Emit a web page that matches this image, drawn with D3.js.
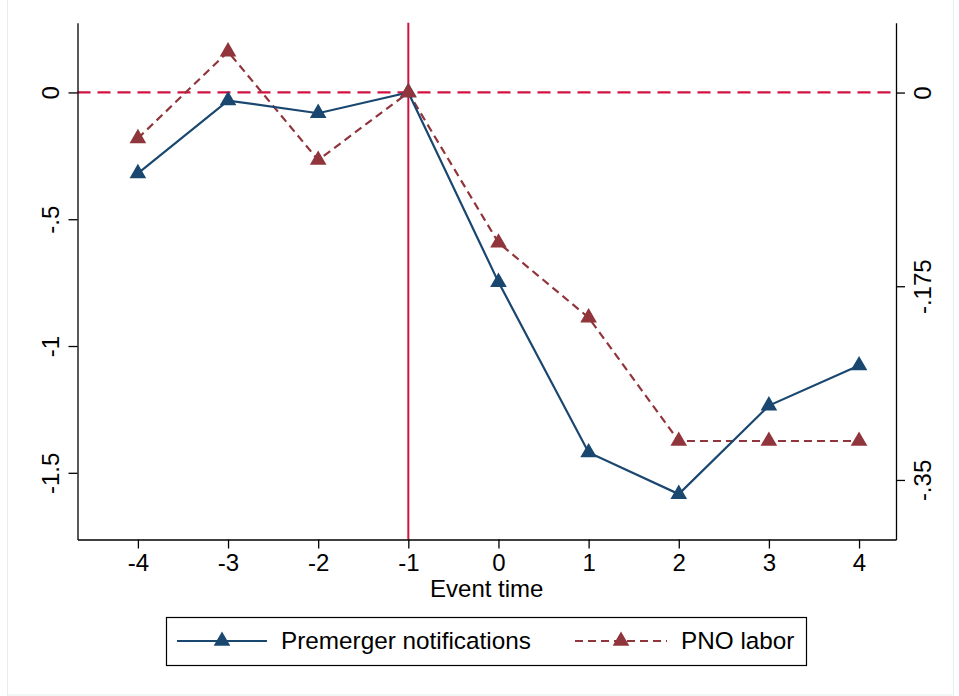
<!DOCTYPE html>
<html>
<head>
<meta charset="utf-8">
<title>Event study</title>
<script src="https://cdn.jsdelivr.net/npm/d3@7/dist/d3.min.js"></script>
<style>
  body { margin: 0; background: #fff; }
  text { font-family: "Liberation Sans", Arial, sans-serif; fill: #000; }
</style>
</head>
<body>
<div id="chart"></div>
<script>
// data
var eventTime = [-4, -3, -2, -1, 0, 1, 2, 3, 4];
var premerger = [-0.319, -0.032, -0.082, 0, -0.748, -1.420, -1.584, -1.235, -1.077];
var pnoLabor  = [-0.0414, 0.0369, -0.061, 0, -0.1357, -0.2033, -0.3148, -0.3148, -0.3148];
var leftTicks  = [0, -0.5, -1, -1.5];
var rightTicks = [0, -0.175, -0.35];
var seriesNames = ["Premerger notifications", "PNO labor"];

var width = 959, height = 696;
var plotLeft = 77.5, plotRight = 896, plotTop = 22.7, plotBottom = 539.5;
var blue = "#1a476f", maroon = "#90353b", refRed = "#d21141";

var svg = d3.select("#chart").append("svg")
    .attr("width", width)
    .attr("height", height);

// faint outer frame of the graph region
svg.append("rect")
    .attr("x", 7.5).attr("y", -5)
    .attr("width", 946).attr("height", 700)
    .attr("fill", "none")
    .attr("stroke", "#e4eef0");

var x = d3.scaleLinear().domain([-4.67, 4.41]).range([plotLeft, plotRight]);
var yL = d3.scaleLinear().domain([-1.763, 0.275]).range([plotBottom, plotTop]);
var yR = d3.scaleLinear().domain([-0.4038, 0.0631]).range([plotBottom, plotTop]);

// Stata style numbers: plain hyphen, no leading zero
function stataFmt(d) { return d === 0 ? "0" : String(d).replace("0.", "."); }

// reference lines
svg.append("line")
    .attr("x1", plotLeft).attr("x2", plotRight)
    .attr("y1", yL(0)).attr("y2", yL(0))
    .attr("stroke", refRed).attr("stroke-width", 2.2)
    .attr("stroke-dasharray", "13,7");
svg.append("line")
    .attr("x1", x(-1)).attr("x2", x(-1))
    .attr("y1", plotTop).attr("y2", plotBottom)
    .attr("stroke", refRed).attr("stroke-width", 2);

// axes
var axisFont = "24px";
var gx = svg.append("g").attr("transform", "translate(0," + plotBottom + ")")
    .call(d3.axisBottom(x).tickValues(eventTime).tickFormat(stataFmt).tickSize(9).tickPadding(5).tickSizeOuter(0));
var gl = svg.append("g").attr("transform", "translate(" + plotLeft + ",0)")
    .call(d3.axisLeft(yL).tickValues(leftTicks).tickFormat(stataFmt).tickSize(9).tickSizeOuter(0));
var gr = svg.append("g").attr("transform", "translate(" + plotRight + ",0)")
    .call(d3.axisRight(yR).tickValues(rightTicks).tickFormat(stataFmt).tickSize(9).tickSizeOuter(0));

[gx, gl, gr].forEach(function(g) {
  g.select(".domain").attr("stroke", "#000").attr("stroke-width", 1.3);
  g.selectAll(".tick line").attr("stroke", "#000").attr("stroke-width", 1.3);
  g.selectAll(".tick text").style("font-size", axisFont).attr("fill", "#000")
    .style("font-family", "Liberation Sans, Arial, sans-serif");
});
// rotated y labels like Stata
gl.selectAll(".tick text")
    .attr("x", null).attr("dy", null)
    .attr("text-anchor", "middle")
    .attr("transform", "translate(-19,0) rotate(-90)");
gr.selectAll(".tick text")
    .attr("x", null).attr("dy", null)
    .attr("text-anchor", "middle")
    .attr("transform", "translate(35,0) rotate(-90)");

svg.append("text")
    .attr("x", (plotLeft + plotRight) / 2).attr("y", 597)
    .attr("text-anchor", "middle")
    .style("font-size", "24px")
    .text("Event time");

// series
var tri = d3.symbol().type(d3.symbolTriangle).size(120);

var lineL = d3.line().x(function(d, i) { return x(eventTime[i]); }).y(function(d) { return yL(d); });
var lineR = d3.line().x(function(d, i) { return x(eventTime[i]); }).y(function(d) { return yR(d); });

svg.append("path").datum(pnoLabor)
    .attr("d", lineR).attr("fill", "none")
    .attr("stroke", maroon).attr("stroke-width", 2.2)
    .attr("stroke-dasharray", "8,5");
svg.append("path").datum(premerger)
    .attr("d", lineL).attr("fill", "none")
    .attr("stroke", blue).attr("stroke-width", 2.2);

svg.selectAll("path.pm").data(premerger).enter().append("path")
    .attr("class", "pm")
    .attr("d", tri)
    .attr("transform", function(d, i) { return "translate(" + x(eventTime[i]) + "," + yL(d) + ")"; })
    .attr("fill", blue);
svg.selectAll("path.pl").data(pnoLabor).enter().append("path")
    .attr("class", "pl")
    .attr("d", tri)
    .attr("transform", function(d, i) { return "translate(" + x(eventTime[i]) + "," + yR(d) + ")"; })
    .attr("fill", maroon);

// legend
var leg = svg.append("g");
leg.append("rect")
    .attr("x", 166.5).attr("y", 617.5)
    .attr("width", 640).attr("height", 48)
    .attr("fill", "#fff").attr("stroke", "#000").attr("stroke-width", 1.2);

var keys = [
  { x0: 177, x1: 267, tx: 281, color: blue, dash: null },
  { x0: 575, x1: 667, tx: 681, color: maroon, dash: "8,5" }
];
keys.forEach(function(k, i) {
  leg.append("line")
      .attr("x1", k.x0).attr("x2", k.x1).attr("y1", 641).attr("y2", 641)
      .attr("stroke", k.color).attr("stroke-width", 2.2)
      .attr("stroke-dasharray", k.dash);
  leg.append("path").attr("d", tri)
      .attr("transform", "translate(" + (k.x0 + k.x1) / 2 + ",641)")
      .attr("fill", k.color);
  leg.append("text")
      .attr("x", k.tx).attr("y", 649)
      .style("font-size", "24.3px")
      .text(seriesNames[i]);
});
</script>
</body>
</html>
